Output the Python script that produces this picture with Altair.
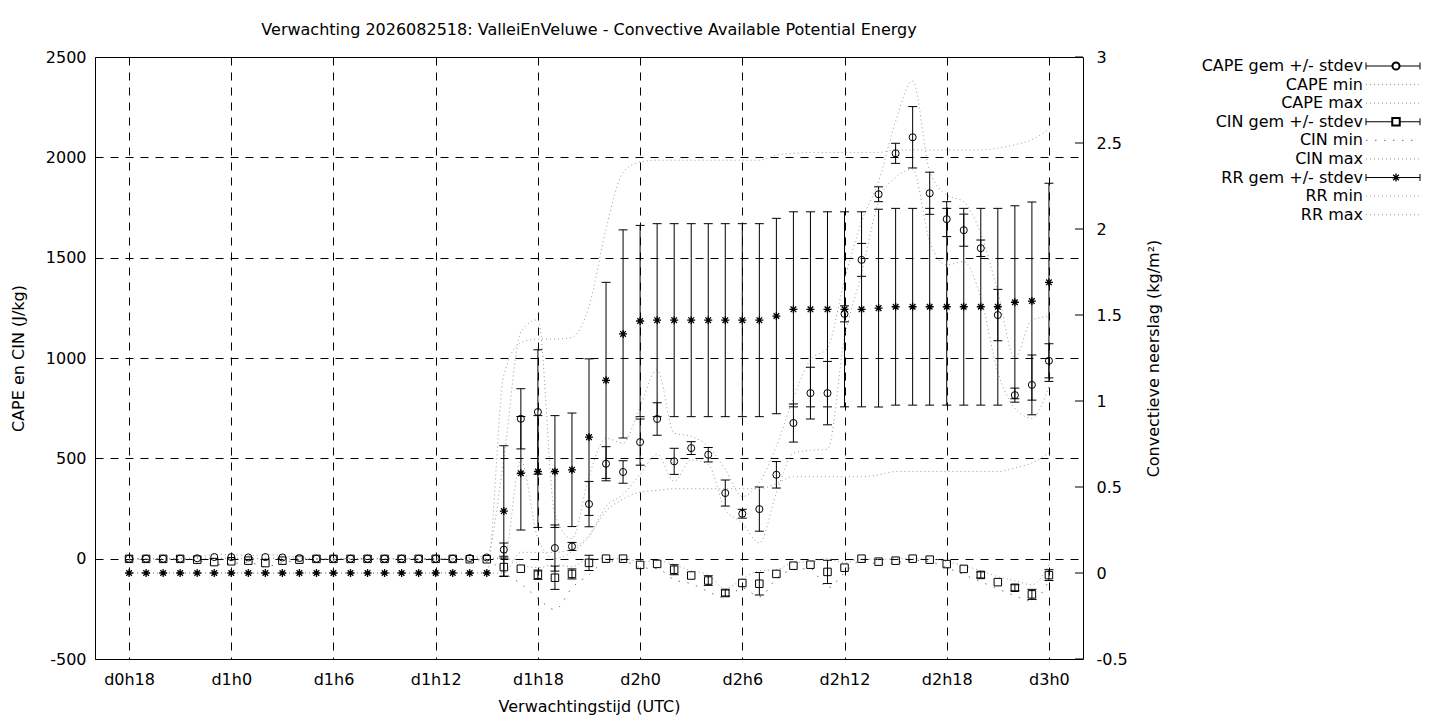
import altair as alt
import pandas as pd

FONT = "DejaVu Sans"
GRAY = "#9a9a9a"

# hours since d0h0 (d0h18 .. d3h0)
hours = list(range(18, 73))
tick_hours = [18, 24, 30, 36, 42, 48, 54, 60, 66, 72]
tick_labels = ["d0h18", "d1h0", "d1h6", "d1h12", "d1h18", "d2h0", "d2h6", "d2h12", "d2h18", "d3h0"]
left_ticks = [-500, 0, 500, 1000, 1500, 2000, 2500]
right_ticks = [-0.5, 0, 0.5, 1, 1.5, 2, 2.5, 3]

cape_mean = [0, 0, 0, 0, 2, 8, 8, 6, 8, 6, 3, 0, 0, 0, 0, 0, 0, 0, 0, 0, 3, 6,
             45, 697, 731, 53, 61, 272, 473, 432, 581, 696,
             485, 551, 518, 327, 224, 247, 418, 676, 825, 825,
             1220, 1489, 1816, 2020, 2100, 1821, 1692, 1637, 1547, 1214,
             815, 866, 986]
cape_sd = [0, 0, 0, 0, 0, 0, 0, 0, 0, 0, 0, 0, 0, 0, 0, 0, 0, 0, 0, 0, 0, 0,
           33, 150, 310, 115, 20, 113, 85, 56, 115, 81,
           65, 32, 36, 65, 22, 110, 66, 95, 129, 158,
           40, 82, 37, 50, 153, 105, 87, 80, 41, 128,
           35, 149, 85]
cape_min = [0, 0, 0, 0, 0, 2, 2, 1, 2, 1, 0, 0, 0, 0, 0, 0, 0, 0, 0, 0, 0, 0,
            0, 490, 100, 0, 35, 110, 260, 320, 420, 520,
            385, 493, 470, 244, 178, 78, 327, 526, 540, 545,
            1100, 1420, 1780, 1900, 1940, 1580, 1464, 1480, 1300, 930,
            750, 700, 858]
cape_max = [0, 0, 0, 0, 5, 20, 20, 15, 20, 15, 6, 0, 0, 0, 0, 0, 0, 0, 0, 0, 6, 15,
            500, 1130, 1190, 220, 100, 410, 600, 576, 760, 940,
            626, 609, 560, 445, 310, 380, 560, 800, 990, 1050,
            1390, 1680, 1880, 2180, 2380, 1930, 1813, 1779, 1620, 1330,
            1000, 1190, 1207]

cin_mean = [-1, -1, -1, -1, -5, -17, -13, -10, -22, -10, -5, -1, -1, -1, -1, -1, -1, -1, -1, -1, -3, -3,
            -42, -50, -80, -95, -76, -21, 0, 0, -31, -26,
            -55, -84, -109, -171, -121, -125, -76, -35, -30, -66,
            -45, 0, -15, -10, 0, -5, -27, -51, -81, -117,
            -145, -178, -82]
cin_sd = [0, 0, 0, 0, 0, 0, 0, 0, 0, 0, 0, 0, 0, 0, 0, 0, 0, 0, 0, 0, 0, 0,
          45, 0, 23, 58, 25, 38, 0, 0, 0, 0,
          25, 0, 24, 15, 0, 56, 0, 0, 0, 58,
          0, 0, 0, 0, 0, 0, 0, 0, 15, 0,
          15, 25, 27]
cin_min = [-2, -2, -2, -2, -8, -30, -25, -18, -40, -20, -8, -2, -2, -2, -2, -2, -2, -2, -2, -2, -5, -6,
           -70, -125, -197, -254, -145, -80, -15, -10, -45, -50,
           -105, -125, -164, -197, -146, -190, -100, -55, -50, -146,
           -70, -10, -25, -20, -8, -15, -45, -80, -115, -150,
           -185, -212, -110]
cin_max = [0, 0, 0, 0, 0, 0, 0, 0, 0, 0, 0, 0, 0, 0, 0, 0, 0, 0, 0, 0, 0, 0,
           5, -30, -45, -30, -40, 0, 0, 0, -15, -10,
           -30, -60, -80, -150, -100, -60, -55, -20, -15, 0,
           -20, 0, -5, 0, 0, 0, -15, -35, -60, -90,
           -110, -130, -30]

rr_mean = [0, 0, 0, 0, 0, 0, 0, 0, 0, 0, 0, 0, 0, 0, 0, 0, 0, 0, 0, 0, 0, 0,
           0.36, 0.58, 0.59, 0.59, 0.60, 0.79, 1.12, 1.39, 1.465, 1.47,
           1.47, 1.47, 1.47, 1.47, 1.47, 1.47, 1.494, 1.533, 1.533, 1.533,
           1.533, 1.533, 1.54, 1.548, 1.548, 1.548, 1.548, 1.548, 1.548, 1.548,
           1.574, 1.581, 1.69]
rr_sd = [0, 0, 0, 0, 0, 0, 0, 0, 0, 0, 0, 0, 0, 0, 0, 0, 0, 0, 0, 0, 0, 0,
         0.38, 0.33, 0.325, 0.325, 0.33, 0.455, 0.57, 0.605, 0.556, 0.561,
         0.561, 0.561, 0.561, 0.561, 0.561, 0.561, 0.568, 0.567, 0.567, 0.567,
         0.567, 0.567, 0.575, 0.572, 0.572, 0.572, 0.572, 0.572, 0.572, 0.572,
         0.561, 0.576, 0.576]
rr_min = [0, 0, 0, 0, 0, 0, 0, 0, 0, 0, 0, 0, 0, 0, 0, 0, 0, 0, 0, 0, 0, 0,
          0.0, 0.12, 0.12, 0.12, 0.14, 0.22, 0.36, 0.43, 0.47, 0.48,
          0.49, 0.49, 0.49, 0.49, 0.49, 0.49, 0.52, 0.56, 0.56, 0.56,
          0.56, 0.56, 0.57, 0.59, 0.59, 0.59, 0.59, 0.59, 0.59, 0.59,
          0.61, 0.64, 0.70]
rr_max = [0, 0, 0, 0, 0, 0, 0, 0, 0, 0, 0, 0, 0, 0, 0, 0, 0, 0, 0, 0, 0, 0,
          1.15, 1.34, 1.36, 1.36, 1.37, 1.55, 2.0, 2.33, 2.39, 2.40,
          2.40, 2.40, 2.40, 2.40, 2.40, 2.40, 2.43, 2.44, 2.445, 2.445,
          2.445, 2.445, 2.445, 2.46, 2.46, 2.46, 2.46, 2.46, 2.46, 2.47,
          2.49, 2.52, 2.58]

legend_labels = ["CAPE gem +/- stdev", "CAPE min", "CAPE max",
                 "CIN gem +/- stdev", "CIN min", "CIN max",
                 "RR gem +/- stdev", "RR min", "RR max"]

title_text = "Verwachting 2026082518: ValleiEnVeluwe - Convective Available Potential Energy"

rows = []
for name, mean, sd, mn, mx in [("CAPE", cape_mean, cape_sd, cape_min, cape_max),
                               ("CIN", cin_mean, cin_sd, cin_min, cin_max),
                               ("RR", rr_mean, rr_sd, rr_min, rr_max)]:
    for t, m, s, a, b in zip(hours, mean, sd, mn, mx):
        rows.append({"series": name, "t": t, "mean": m, "sd": s,
                     "lo": m - s, "hi": m + s, "mn": a, "mx": b})
df = pd.DataFrame(rows)

AX = dict(labelFont=FONT, titleFont=FONT, labelFontSize=16, titleFontSize=16,
          titleFontWeight="normal", labelColor="black", titleColor="black",
          gridColor="black", gridDash=[8, 7], gridOpacity=1, gridWidth=1,
          domain=False, ticks=False, tickSize=0, labelFlush=False)

label_arr = "[" + ",".join("'%s'" % l for l in tick_labels) + "]"
x_axis = alt.Axis(values=tick_hours, labelExpr=label_arr + "[round((datum.value-18)/6)]",
                  grid=True, title="Verwachtingstijd (UTC)", labelPadding=12,
                  titleX=494, titleY=47, titleBaseline="middle", **AX)
left_axis = alt.Axis(values=left_ticks, grid=True, orient="left", title="CAPE en CIN (J/kg)",
                     labelPadding=9, titleAngle=270, titleX=-77, titleY=301,
                     titleBaseline="middle", labelExpr="'' + datum.value", **AX)
right_axis = alt.Axis(values=right_ticks, grid=False, orient="right",
                      title="Convectieve neerslag (kg/m²)", labelPadding=13,
                      titleAngle=270, titleX=70, titleY=301, titleBaseline="middle",
                      labelAlign="left", labelExpr="'' + datum.value", **AX)

X = alt.X("t:Q", scale=alt.Scale(domain=[16, 74], nice=False, zero=False), axis=x_axis)


def YL(f):
    return alt.Y(f + ":Q", scale=alt.Scale(domain=[-500, 2500], nice=False, zero=False), axis=left_axis)


def YR(f):
    return alt.Y(f + ":Q", scale=alt.Scale(domain=[-0.5, 3], nice=False, zero=False), axis=right_axis)


ASTER = "M-1,0L1,0M0,-1L0,1M-0.7,-0.7L0.7,0.7M-0.7,0.7L0.7,-0.7"
S_CIRC, S_SQ, S_AST = 50, 56, 64


def series_layers(name, Y, shape, size, sw, mindash, mincolor):
    src = alt.Chart(df).transform_filter(alt.datum.series == name)
    ln_min = src.mark_line(interpolate="monotone", color=mincolor, strokeDash=mindash,
                           strokeWidth=1).encode(x=X, y=Y("mn"))
    ln_max = src.mark_line(interpolate="monotone", color=GRAY, strokeDash=[1, 3],
                           strokeWidth=1).encode(x=X, y=Y("mx"))
    bars = src.transform_filter(alt.datum.sd > 0)
    rule = bars.mark_rule(color="black", strokeWidth=1).encode(x=X, y=Y("lo"), y2=alt.Y2("hi:Q"))
    cap_lo = bars.mark_tick(orient="horizontal", size=9, thickness=1, color="black",
                            opacity=1).encode(x=X, y=Y("lo"))
    cap_hi = bars.mark_tick(orient="horizontal", size=9, thickness=1, color="black",
                            opacity=1).encode(x=X, y=Y("hi"))
    pts = src.mark_point(shape=shape, size=size, filled=False, color="black",
                         strokeWidth=sw, opacity=1).encode(x=X, y=Y("mean"))
    return [ln_min, ln_max, rule, cap_lo, cap_hi, pts]


left_group = alt.layer(*(series_layers("CAPE", YL, "circle", S_CIRC, 1, [1, 3], GRAY) +
                         series_layers("CIN", YL, "square", S_SQ, 1, [1.5, 7.5], "#707070")))

rtick = alt.Chart(pd.DataFrame({"v": right_ticks})).mark_rule(color="black").encode(
    x=alt.value(980), x2=alt.value(988), y=YR("v"))
right_group = alt.layer(*(series_layers("RR", YR, ASTER, S_AST, 1.3, [1, 3], GRAY) + [rtick]))

# legend
leg = pd.DataFrame({"row": list(range(9)), "label": legend_labels})
LY = alt.Y("row:Q", scale=alt.Scale(domain=[0, 8], range=[9, 157.7]), axis=None)
lbase = alt.Chart(leg)
leg_text = lbase.mark_text(align="right", baseline="middle", font=FONT, fontSize=16,
                           color="black").encode(x=alt.value(1268), y=LY, text="label:N")
barrows = lbase.transform_filter(alt.FieldOneOfPredicate(field="row", oneOf=[0, 3, 6]))
leg_line = barrows.mark_rule(color="black").encode(x=alt.value(1271), x2=alt.value(1325), y=LY)
leg_cap1 = barrows.mark_tick(orient="vertical", size=7, thickness=1, color="black",
                             opacity=1).encode(x=alt.value(1271), y=LY)
leg_cap2 = barrows.mark_tick(orient="vertical", size=7, thickness=1, color="black",
                             opacity=1).encode(x=alt.value(1325), y=LY)
leg_p1 = lbase.transform_filter(alt.datum.row == 0).mark_point(
    shape="circle", size=S_CIRC, filled=False, color="black", fill="white", opacity=1).encode(x=alt.value(1301), y=LY)
leg_p2 = lbase.transform_filter(alt.datum.row == 3).mark_point(
    shape="square", size=S_SQ, filled=False, color="black", fill="white", opacity=1).encode(x=alt.value(1301), y=LY)
leg_p3 = lbase.transform_filter(alt.datum.row == 6).mark_point(
    shape=ASTER, size=S_AST, filled=False, color="black", strokeWidth=1.3, opacity=1).encode(x=alt.value(1301), y=LY)
dotrows = lbase.transform_filter(alt.FieldOneOfPredicate(field="row", oneOf=[1, 2, 5, 7, 8]))
leg_dot = dotrows.mark_rule(color=GRAY, strokeDash=[1, 3]).encode(x=alt.value(1271), x2=alt.value(1325), y=LY)
leg_dot2 = lbase.transform_filter(alt.datum.row == 4).mark_rule(
    color="#707070", strokeDash=[1.5, 7.5]).encode(x=alt.value(1271), x2=alt.value(1325), y=LY)
legend_group = alt.layer(leg_text, leg_line, leg_cap1, leg_cap2, leg_dot, leg_dot2, leg_p1, leg_p2, leg_p3)

chart = alt.layer(left_group, right_group, legend_group).resolve_scale(y="independent").properties(
    width=988, height=602,
    autosize=alt.AutoSizeParams(type="none"),
    padding={"left": 87, "top": 49, "right": 341, "bottom": 60},
    background="white",
    title=alt.TitleParams(title_text, font=FONT, fontSize=16, fontWeight="normal",
                          anchor="middle", frame="group", offset=11, color="black"),
).configure_view(stroke="black", strokeWidth=1)

chart.save("out.html", embed_options={"renderer": "svg", "actions": False})
